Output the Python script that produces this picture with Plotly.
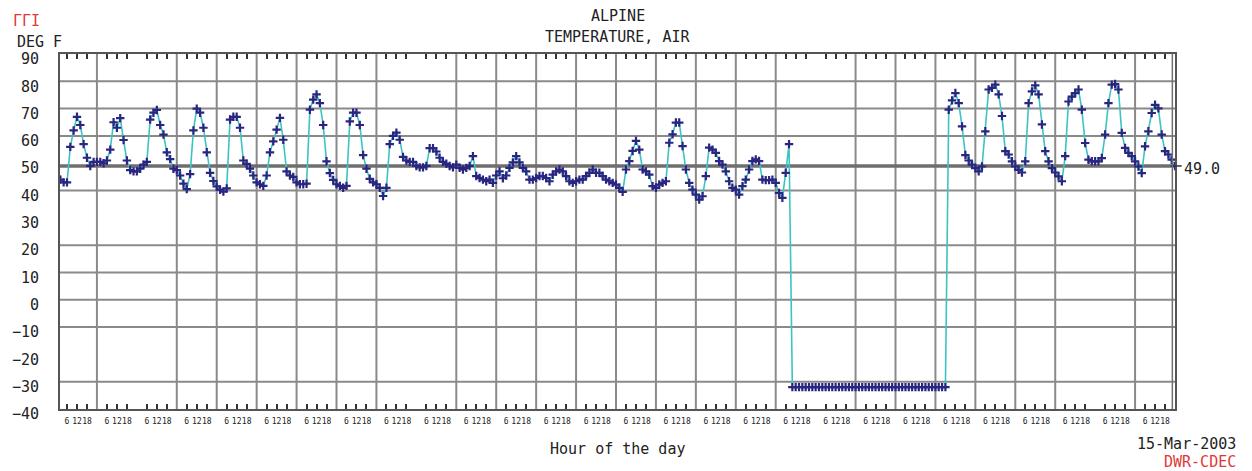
import plotly.graph_objects as go

# Air temperature (deg F), one reading every two hours, 00:00 .. 22:00 each day
feb15 = [45, 44, 43, 43, 56, 62, 67, 64, 57, 52, 49, 50.5]
feb16 = [50.5, 50.5, 50, 51, 55, 65, 63, 66.5, 58.5, 51, 47.5, 47]
feb17 = [47, 48, 49.5, 50.5, 66, 68.5, 69.5, 64, 60.5, 54, 51.5, 48]
feb18 = [47.5, 45.5, 42.5, 40.5, 46, 62, 70, 68.5, 63, 54, 46.5, 43.5]
feb19 = [41.5, 40.3, 39.6, 40.8, 66, 67, 67, 63, 51, 49.8, 48, 45.5]
feb20 = [43, 42.3, 41.7, 45.5, 54, 58, 62.3, 66.6, 58.6, 47, 45.5, 45]
feb21 = [43, 42.3, 42.3, 42.5, 69.6, 73.3, 75.2, 72, 64, 50.7, 46.4, 43.9]
feb22 = [42.3, 41.7, 41, 41.7, 65.3, 68.5, 68.5, 64, 53, 48, 44.3, 43]
feb23 = [42.3, 41, 38, 41, 57, 60, 61.2, 58.6, 52.3, 51, 50.5, 50.5]
feb24 = [49, 48.5, 48.5, 49, 55.5, 55.5, 54.3, 52, 50.5, 49.8, 49, 48.5]
feb25 = [49.5, 48.3, 47.7, 48.3, 49, 52.6, 45.3, 44.6, 44, 43.4, 44, 42.8]
feb26 = [45.5, 47, 44.5, 45.5, 48.3, 50.3, 52.6, 50.3, 48.3, 47, 44, 44]
feb27 = [44.6, 45.3, 45.3, 44.6, 43.4, 45.8, 47, 47.7, 47, 45.3, 43.4, 42.8]
feb28 = [43.4, 44, 44, 45.3, 46.5, 47.7, 46.5, 46.5, 45.3, 44, 43.4, 42.8]
mar01 = [42.2, 41, 39.5, 47.7, 50.8, 54.5, 58.2, 55, 47.7, 47, 45.8, 41.6]
mar02 = [41, 42.2, 42.8, 43.4, 57.5, 60.6, 64.9, 64.9, 56.3, 47.7, 42.8, 40.3]
mar03 = [38.5, 36.7, 37.9, 45.3, 55.7, 55, 53.8, 50.8, 49.5, 47, 43.4, 41]
mar04 = [40.3, 38.5, 41.6, 44, 47.7, 50.8, 51.4, 50.8, 44, 43.8, 43.8, 44]
mar05 = [42.8, 39.1, 37.3, 46.5, 57, -32, -32, -32, -32, -32, -32, -32]
mar06 = [-32, -32, -32, -32, -32, -32, -32, -32, -32, -32, -32, -32]
mar07 = [-32, -32, -32, -32, -32, -32, -32, -32, -32, -32, -32, -32]
mar08 = [-32, -32, -32, -32, -32, -32, -32, -32, -32, -32, -32, -32]
mar09 = [-32, -32, -32, -32, 69.6, 73, 75.7, 72, 63.5, 53, 51, 49.5]
mar10 = [48.2, 47, 48.8, 61.7, 77, 77.6, 78.8, 75.2, 67.3, 54.4, 53.2, 50.7]
mar11 = [48.8, 47.6, 46.6, 50.7, 72, 76.3, 78.5, 75.2, 64.2, 54.4, 50.7, 48.2]
mar12 = [46.6, 45.2, 43.4, 52.6, 72.6, 74.4, 75.7, 77, 69.6, 57.4, 51.3, 50.7]
mar13 = [50.7, 50.7, 51.9, 60.5, 72, 78.8, 79, 77, 61.1, 55.6, 53.8, 52.6]
mar14 = [50.7, 48.8, 46.4, 56.2, 61.7, 68.4, 71.4, 70.1, 60.5, 54.4, 53.2, 51.3]
mar15_midnight = [49.0]

days = [feb15, feb16, feb17, feb18, feb19, feb20, feb21, feb22, feb23, feb24,
        feb25, feb26, feb27, feb28, mar01, mar02, mar03, mar04, mar05, mar06,
        mar07, mar08, mar09, mar10, mar11, mar12, mar13, mar14]
temps = [v for day in days for v in day] + mar15_midnight
hours = [2 * i for i in range(len(temps))]
n_days = len(days)

tick_hours = [6, 12, 18]
tick_vals = [24 * d + h for d in range(n_days) for h in tick_hours]
tick_text = [str(h) for d in range(n_days) for h in tick_hours]
y_ticks = list(range(-40, 91, 10))

# day boundaries that carry a vertical grid line, and the horizontal grid levels
grid_days = [1, 3, 4, 5, 6, 7, 8, 10, 11, 12, 13, 14, 15, 16, 17, 18,
             20, 21, 22, 23, 24, 25, 27]
grid_levels = [80, 70, 60, 40, 20, 10, 0, -10, -30]

last_value = temps[-1]
mono = "DejaVu Sans Mono"
grid_col = "#8a8a8a"
ink = "#222"
red = "#e03838"
x_end = 24 * n_days

fig = go.Figure()
fig.add_trace(go.Scatter(
    x=hours, y=temps, mode="lines+markers",
    line=dict(color="#3cc4c4", width=1.6),
    marker=dict(symbol="cross-thin", size=6,
                line=dict(color="#2a2580", width=2.2), color="#2a2580"),
    hoverinfo="x+y", showlegend=False,
))

shapes = []
for d in grid_days:
    shapes.append(dict(type="line", xref="x", yref="paper", x0=24 * d, x1=24 * d,
                       y0=0, y1=1, line=dict(color=grid_col, width=2), layer="below"))
for lv in grid_levels:
    shapes.append(dict(type="line", xref="paper", yref="y", x0=0, x1=1,
                       y0=lv, y1=lv, line=dict(color=grid_col, width=2), layer="below"))
# latest reading as a reference line across the chart
shapes.append(dict(type="line", xref="paper", yref="y", x0=0, x1=1,
                   y0=last_value, y1=last_value,
                   line=dict(color="#6e6e6e", width=3.5), layer="below"))
shapes.append(dict(type="line", xref="paper", yref="y", x0=1, x1=1.006,
                   y0=last_value, y1=last_value, line=dict(color="#333", width=1.5)))
# doubled right border
shapes.append(dict(type="line", xref="x", yref="paper", x0=x_end - 1.6, x1=x_end - 1.6,
                   y0=0, y1=1, line=dict(color="#707070", width=1.5)))


def note(text, x, y, color=ink, xanchor="center", size=15):
    return dict(text=text, x=x, y=y, xref="paper", yref="paper", xanchor=xanchor,
                yanchor="middle", showarrow=False,
                font=dict(family=mono, size=size, color=color))


annotations = [
    note("ALPINE", 0.5, 1.107),
    note("TEMPERATURE, AIR", 0.5, 1.048),
    note("ΓΓI", -0.0435, 1.093, color=red, xanchor="left"),
    note("DEG F", -0.0405, 1.035, xanchor="left"),
    note("Hour of the day", 0.5, -0.113),
    note("15-Mar-2003", 1.0564, -0.099, xanchor="right"),
    note("DWR-CDEC", 1.0564, -0.149, color=red, xanchor="right"),
    dict(text=f"{last_value:.1f}", x=1.0065, y=last_value, xref="paper", yref="y",
         xanchor="left", yanchor="middle", yshift=-3, showarrow=False,
         font=dict(family=mono, size=15, color=ink)),
]

fig.update_layout(
    width=1252, height=471,
    margin=dict(l=58, r=77, t=54, b=62),
    paper_bgcolor="white", plot_bgcolor="white",
    shapes=shapes, annotations=annotations,
    font=dict(family=mono, color=ink),
    xaxis=dict(range=[1.8, x_end], tickmode="array", tickvals=tick_vals,
               ticktext=tick_text, tickangle=0, ticks="inside", ticklen=5,
               tickwidth=1.5, tickcolor="#333", showgrid=False, zeroline=False,
               showline=True, linecolor="#555", linewidth=2, mirror="ticks",
               tickfont=dict(family=mono, size=8, color=ink),
               ticklabelstandoff=3),
    yaxis=dict(range=[-40, 90], tickmode="array", tickvals=y_ticks, ticks="",
               showgrid=False, zeroline=False, showline=True, linecolor="#555",
               linewidth=2, mirror=True, ticklabelstandoff=16, ticklabelshift=5,
               tickfont=dict(family=mono, size=15, color=ink)),
)

fig.write_html("out.html")
